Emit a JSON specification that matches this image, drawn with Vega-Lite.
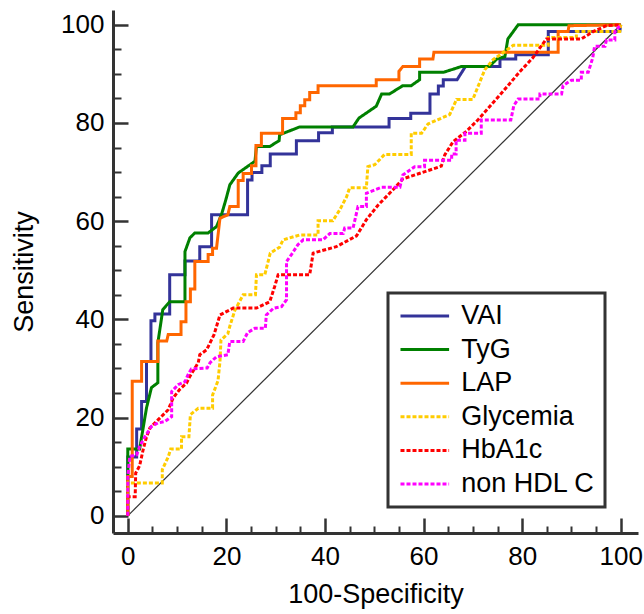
{
"$schema":"https://vega.github.io/schema/vega-lite/v6.json",
"width":525,"height":523,
"autosize":{"type":"none"},
"padding":{"left":113,"top":10,"right":6,"bottom":81},
"background":"white",
"config":{"font":"Liberation Sans","view":{"stroke":null},"axis":{"grid":false}},
"datasets":{
"roc":[
{"s":"VAI","x":0,"y":0},{"s":"VAI","x":0,"y":12},{"s":"VAI","x":1.8,"y":12},{"s":"VAI","x":1.8,"y":17.7},{"s":"VAI","x":2.8,"y":17.7},{"s":"VAI","x":2.8,"y":23.3},{"s":"VAI","x":3.8,"y":23.3},{"s":"VAI","x":3.8,"y":31.4},{"s":"VAI","x":4.7,"y":31.4},{"s":"VAI","x":4.7,"y":39.7},{"s":"VAI","x":5.5,"y":39.7},{"s":"VAI","x":5.5,"y":41.1},{"s":"VAI","x":8.5,"y":41.1},{"s":"VAI","x":8.5,"y":49.1},{"s":"VAI","x":11.6,"y":49.1},{"s":"VAI","x":11.6,"y":51.9},{"s":"VAI","x":14.6,"y":51.9},{"s":"VAI","x":14.6,"y":54.8},{"s":"VAI","x":17,"y":54.8},{"s":"VAI","x":17,"y":61.3},{"s":"VAI","x":24.3,"y":61.3},{"s":"VAI","x":24.3,"y":68.4},{"s":"VAI","x":25.2,"y":68.4},{"s":"VAI","x":25.2,"y":69.9},{"s":"VAI","x":27.2,"y":69.9},{"s":"VAI","x":27.2,"y":71.3},{"s":"VAI","x":28.9,"y":71.3},{"s":"VAI","x":28.9,"y":73.7},{"s":"VAI","x":34.2,"y":73.7},{"s":"VAI","x":34.2,"y":76.4},{"s":"VAI","x":38.7,"y":76.4},{"s":"VAI","x":38.7,"y":78},{"s":"VAI","x":41.5,"y":78},{"s":"VAI","x":41.5,"y":79.2},{"s":"VAI","x":53,"y":79.2},{"s":"VAI","x":53,"y":80.9},{"s":"VAI","x":57.4,"y":80.9},{"s":"VAI","x":57.4,"y":82},{"s":"VAI","x":61.3,"y":82},{"s":"VAI","x":61.3,"y":85.9},{"s":"VAI","x":63,"y":85.9},{"s":"VAI","x":63,"y":87.5},{"s":"VAI","x":64,"y":87.5},{"s":"VAI","x":64,"y":88.8},{"s":"VAI","x":66.8,"y":88.8},{"s":"VAI","x":68.5,"y":91.5},{"s":"VAI","x":75.5,"y":91.5},{"s":"VAI","x":75.5,"y":93},{"s":"VAI","x":78.7,"y":93},{"s":"VAI","x":78.7,"y":93.9},{"s":"VAI","x":85.3,"y":93.9},{"s":"VAI","x":85.3,"y":98.6},{"s":"VAI","x":99.8,"y":98.6},{"s":"VAI","x":100,"y":100},
{"s":"TyG","x":0,"y":0},{"s":"TyG","x":0,"y":13.6},{"s":"TyG","x":2.4,"y":13.6},{"s":"TyG","x":3.8,"y":22},{"s":"TyG","x":4.8,"y":26.1},{"s":"TyG","x":6.1,"y":27.1},{"s":"TyG","x":6.1,"y":35.2},{"s":"TyG","x":7.1,"y":42},{"s":"TyG","x":8.5,"y":43.6},{"s":"TyG","x":11.6,"y":43.6},{"s":"TyG","x":11.6,"y":53.8},{"s":"TyG","x":12.6,"y":56.6},{"s":"TyG","x":13.6,"y":57.6},{"s":"TyG","x":16.3,"y":57.6},{"s":"TyG","x":18,"y":58.9},{"s":"TyG","x":19,"y":61.3},{"s":"TyG","x":19.9,"y":64.4},{"s":"TyG","x":20.7,"y":67.4},{"s":"TyG","x":22.4,"y":69.8},{"s":"TyG","x":25.8,"y":72.2},{"s":"TyG","x":26.1,"y":75.2},{"s":"TyG","x":28.8,"y":75.2},{"s":"TyG","x":30.7,"y":76.4},{"s":"TyG","x":30.8,"y":77.6},{"s":"TyG","x":34.9,"y":79.2},{"s":"TyG","x":45.7,"y":79.2},{"s":"TyG","x":46.9,"y":81},{"s":"TyG","x":50.4,"y":83.4},{"s":"TyG","x":51.5,"y":85.9},{"s":"TyG","x":53.1,"y":85.9},{"s":"TyG","x":55.8,"y":87.6},{"s":"TyG","x":57.5,"y":87.6},{"s":"TyG","x":59.2,"y":88.8},{"s":"TyG","x":59.2,"y":90.3},{"s":"TyG","x":64,"y":90.3},{"s":"TyG","x":67.7,"y":91.5},{"s":"TyG","x":73.4,"y":91.5},{"s":"TyG","x":74.8,"y":93},{"s":"TyG","x":76.5,"y":93.5},{"s":"TyG","x":77.1,"y":97.1},{"s":"TyG","x":79.2,"y":100},{"s":"TyG","x":100,"y":100},
{"s":"LAP","x":0,"y":0},{"s":"LAP","x":0,"y":8},{"s":"LAP","x":0.9,"y":8},{"s":"LAP","x":0.9,"y":27.4},{"s":"LAP","x":2.8,"y":27.4},{"s":"LAP","x":2.8,"y":31.4},{"s":"LAP","x":6.1,"y":31.4},{"s":"LAP","x":6.1,"y":35.6},{"s":"LAP","x":7.9,"y":35.6},{"s":"LAP","x":8.2,"y":36.9},{"s":"LAP","x":10.8,"y":36.9},{"s":"LAP","x":10.8,"y":39.5},{"s":"LAP","x":11.8,"y":39.5},{"s":"LAP","x":11.8,"y":43.6},{"s":"LAP","x":12.7,"y":43.6},{"s":"LAP","x":12.7,"y":46.2},{"s":"LAP","x":13.6,"y":46.2},{"s":"LAP","x":13.6,"y":51.8},{"s":"LAP","x":16.3,"y":51.8},{"s":"LAP","x":16.3,"y":53.2},{"s":"LAP","x":17.2,"y":53.2},{"s":"LAP","x":17.2,"y":54.5},{"s":"LAP","x":18,"y":54.5},{"s":"LAP","x":18.7,"y":60.6},{"s":"LAP","x":20.3,"y":61.3},{"s":"LAP","x":20.7,"y":63},{"s":"LAP","x":22.4,"y":63},{"s":"LAP","x":22.4,"y":68.3},{"s":"LAP","x":23.4,"y":68.3},{"s":"LAP","x":23.4,"y":69.7},{"s":"LAP","x":25.1,"y":69.7},{"s":"LAP","x":25.1,"y":71.3},{"s":"LAP","x":26,"y":71.3},{"s":"LAP","x":26,"y":75.4},{"s":"LAP","x":27.1,"y":75.4},{"s":"LAP","x":27.1,"y":77.9},{"s":"LAP","x":31.4,"y":77.9},{"s":"LAP","x":31.4,"y":80.9},{"s":"LAP","x":34.1,"y":80.9},{"s":"LAP","x":34.1,"y":82.1},{"s":"LAP","x":35,"y":82.1},{"s":"LAP","x":35,"y":83.5},{"s":"LAP","x":35.9,"y":83.5},{"s":"LAP","x":35.9,"y":84.7},{"s":"LAP","x":36.9,"y":84.7},{"s":"LAP","x":36.9,"y":86.2},{"s":"LAP","x":38.6,"y":86.2},{"s":"LAP","x":38.6,"y":87.6},{"s":"LAP","x":50.4,"y":87.6},{"s":"LAP","x":50.4,"y":88.8},{"s":"LAP","x":55,"y":88.8},{"s":"LAP","x":55,"y":90.5},{"s":"LAP","x":55.8,"y":91.5},{"s":"LAP","x":59.2,"y":91.5},{"s":"LAP","x":59.2,"y":93},{"s":"LAP","x":61.9,"y":93},{"s":"LAP","x":62.1,"y":94.4},{"s":"LAP","x":87.3,"y":94.4},{"s":"LAP","x":87.3,"y":98.6},{"s":"LAP","x":89.3,"y":98.6},{"s":"LAP","x":89.5,"y":99.8},{"s":"LAP","x":100,"y":100},
{"s":"Glycemia","x":0,"y":0},{"s":"Glycemia","x":0,"y":6.7},{"s":"Glycemia","x":7,"y":6.7},{"s":"Glycemia","x":7,"y":9.4},{"s":"Glycemia","x":8.2,"y":12},{"s":"Glycemia","x":8.7,"y":13.6},{"s":"Glycemia","x":10.9,"y":13.6},{"s":"Glycemia","x":10.9,"y":16.1},{"s":"Glycemia","x":12.4,"y":16.1},{"s":"Glycemia","x":12.7,"y":20.6},{"s":"Glycemia","x":14.3,"y":21.9},{"s":"Glycemia","x":17.2,"y":21.9},{"s":"Glycemia","x":17.2,"y":24.6},{"s":"Glycemia","x":18.3,"y":27.5},{"s":"Glycemia","x":18.7,"y":31.4},{"s":"Glycemia","x":18.9,"y":35.8},{"s":"Glycemia","x":20.3,"y":37.1},{"s":"Glycemia","x":20.7,"y":38.6},{"s":"Glycemia","x":21.7,"y":41.8},{"s":"Glycemia","x":23.4,"y":45},{"s":"Glycemia","x":25.9,"y":45},{"s":"Glycemia","x":26.1,"y":49.1},{"s":"Glycemia","x":27.8,"y":49.1},{"s":"Glycemia","x":28.9,"y":53.5},{"s":"Glycemia","x":30.8,"y":54.7},{"s":"Glycemia","x":31.5,"y":56.2},{"s":"Glycemia","x":34.9,"y":57.2},{"s":"Glycemia","x":38.6,"y":57.2},{"s":"Glycemia","x":38.6,"y":60.1},{"s":"Glycemia","x":41.6,"y":60.1},{"s":"Glycemia","x":43,"y":62.3},{"s":"Glycemia","x":44.4,"y":65},{"s":"Glycemia","x":45,"y":66.8},{"s":"Glycemia","x":48.4,"y":66.8},{"s":"Glycemia","x":48.7,"y":71.1},{"s":"Glycemia","x":50.1,"y":71.5},{"s":"Glycemia","x":52.1,"y":73.6},{"s":"Glycemia","x":57.5,"y":73.6},{"s":"Glycemia","x":57.5,"y":77.9},{"s":"Glycemia","x":59.6,"y":77.9},{"s":"Glycemia","x":60.9,"y":79.8},{"s":"Glycemia","x":65.3,"y":81.7},{"s":"Glycemia","x":66.7,"y":84.8},{"s":"Glycemia","x":70,"y":84.8},{"s":"Glycemia","x":72.4,"y":90.8},{"s":"Glycemia","x":74.1,"y":92.9},{"s":"Glycemia","x":76.5,"y":94.6},{"s":"Glycemia","x":78.2,"y":95.8},{"s":"Glycemia","x":85.3,"y":95.8},{"s":"Glycemia","x":85.3,"y":97.4},{"s":"Glycemia","x":91,"y":97.4},{"s":"Glycemia","x":91,"y":98.6},{"s":"Glycemia","x":99.8,"y":98.6},{"s":"Glycemia","x":100,"y":100},
{"s":"HbA1c","x":0,"y":0},{"s":"HbA1c","x":0,"y":3.9},{"s":"HbA1c","x":1.5,"y":3.9},{"s":"HbA1c","x":1.6,"y":8.7},{"s":"HbA1c","x":2.4,"y":10.2},{"s":"HbA1c","x":3.1,"y":13.4},{"s":"HbA1c","x":3.8,"y":16.1},{"s":"HbA1c","x":4.5,"y":17.9},{"s":"HbA1c","x":5.8,"y":19.2},{"s":"HbA1c","x":6.8,"y":20.2},{"s":"HbA1c","x":8.2,"y":21.6},{"s":"HbA1c","x":9.2,"y":24},{"s":"HbA1c","x":10.5,"y":25.7},{"s":"HbA1c","x":11.9,"y":27},{"s":"HbA1c","x":12.6,"y":28.4},{"s":"HbA1c","x":14.3,"y":31.2},{"s":"HbA1c","x":14.6,"y":32.8},{"s":"HbA1c","x":16,"y":33.8},{"s":"HbA1c","x":17.5,"y":36.9},{"s":"HbA1c","x":18.7,"y":40.9},{"s":"HbA1c","x":21.4,"y":42.3},{"s":"HbA1c","x":26.1,"y":42.3},{"s":"HbA1c","x":28.8,"y":43.6},{"s":"HbA1c","x":29.8,"y":46.7},{"s":"HbA1c","x":30.5,"y":49.1},{"s":"HbA1c","x":36.9,"y":49.1},{"s":"HbA1c","x":37.6,"y":53.5},{"s":"HbA1c","x":42.3,"y":54.8},{"s":"HbA1c","x":46.4,"y":57},{"s":"HbA1c","x":48.4,"y":60.3},{"s":"HbA1c","x":50.8,"y":63.3},{"s":"HbA1c","x":53.8,"y":66.4},{"s":"HbA1c","x":55.8,"y":68.6},{"s":"HbA1c","x":63.6,"y":71.2},{"s":"HbA1c","x":64.3,"y":73.5},{"s":"HbA1c","x":66,"y":76.2},{"s":"HbA1c","x":68.7,"y":78.3},{"s":"HbA1c","x":71.1,"y":80.7},{"s":"HbA1c","x":75.5,"y":85.7},{"s":"HbA1c","x":79.5,"y":90.4},{"s":"HbA1c","x":82.2,"y":93.3},{"s":"HbA1c","x":84.9,"y":97.1},{"s":"HbA1c","x":92,"y":97.1},{"s":"HbA1c","x":94.4,"y":98.6},{"s":"HbA1c","x":97.1,"y":99.8},{"s":"HbA1c","x":100,"y":100},
{"s":"non HDL C","x":0,"y":0},{"s":"non HDL C","x":0,"y":8},{"s":"non HDL C","x":0.4,"y":12.1},{"s":"non HDL C","x":1.8,"y":12.4},{"s":"non HDL C","x":2.4,"y":14.1},{"s":"non HDL C","x":3.4,"y":16},{"s":"non HDL C","x":4.8,"y":18.2},{"s":"non HDL C","x":6.1,"y":18.9},{"s":"non HDL C","x":7.5,"y":19.2},{"s":"non HDL C","x":8.9,"y":20.2},{"s":"non HDL C","x":8.9,"y":25.3},{"s":"non HDL C","x":10.2,"y":26.7},{"s":"non HDL C","x":11.6,"y":27.3},{"s":"non HDL C","x":12.2,"y":28.7},{"s":"non HDL C","x":12.9,"y":29.9},{"s":"non HDL C","x":16.1,"y":30.1},{"s":"non HDL C","x":16.7,"y":31.2},{"s":"non HDL C","x":18,"y":32.4},{"s":"non HDL C","x":20.3,"y":32.8},{"s":"non HDL C","x":20.7,"y":35.5},{"s":"non HDL C","x":23.4,"y":35.5},{"s":"non HDL C","x":24.3,"y":37.3},{"s":"non HDL C","x":25.8,"y":38.2},{"s":"non HDL C","x":27.9,"y":38.2},{"s":"non HDL C","x":28.1,"y":40.9},{"s":"non HDL C","x":29.6,"y":42.3},{"s":"non HDL C","x":31.2,"y":42.6},{"s":"non HDL C","x":32.2,"y":44},{"s":"non HDL C","x":32.2,"y":51.8},{"s":"non HDL C","x":33.2,"y":53.2},{"s":"non HDL C","x":34.5,"y":55.2},{"s":"non HDL C","x":35.6,"y":56.2},{"s":"non HDL C","x":39.6,"y":56.2},{"s":"non HDL C","x":41,"y":57.5},{"s":"non HDL C","x":43.7,"y":57.5},{"s":"non HDL C","x":44,"y":58.6},{"s":"non HDL C","x":45.7,"y":58.6},{"s":"non HDL C","x":46.7,"y":63},{"s":"non HDL C","x":48.4,"y":63},{"s":"non HDL C","x":48.4,"y":65.7},{"s":"non HDL C","x":51.5,"y":66.9},{"s":"non HDL C","x":55.2,"y":66.9},{"s":"non HDL C","x":55.8,"y":69.4},{"s":"non HDL C","x":58.2,"y":71.1},{"s":"non HDL C","x":60.2,"y":71.1},{"s":"non HDL C","x":60.2,"y":72.4},{"s":"non HDL C","x":65.7,"y":72.4},{"s":"non HDL C","x":65.7,"y":73.7},{"s":"non HDL C","x":66.6,"y":73.7},{"s":"non HDL C","x":66.6,"y":76.5},{"s":"non HDL C","x":68.4,"y":76.5},{"s":"non HDL C","x":68.4,"y":77.9},{"s":"non HDL C","x":71.7,"y":77.9},{"s":"non HDL C","x":71.7,"y":80.6},{"s":"non HDL C","x":77.7,"y":80.6},{"s":"non HDL C","x":78.3,"y":83.5},{"s":"non HDL C","x":79.2,"y":84.9},{"s":"non HDL C","x":83.6,"y":84.9},{"s":"non HDL C","x":83.6,"y":85.9},{"s":"non HDL C","x":88,"y":85.9},{"s":"non HDL C","x":88.3,"y":87.6},{"s":"non HDL C","x":90,"y":88.7},{"s":"non HDL C","x":92,"y":88.7},{"s":"non HDL C","x":92,"y":90.3},{"s":"non HDL C","x":93.4,"y":90.3},{"s":"non HDL C","x":94.3,"y":93.2},{"s":"non HDL C","x":94.7,"y":95.6},{"s":"non HDL C","x":96.8,"y":95.6},{"s":"non HDL C","x":97.1,"y":96.9},{"s":"non HDL C","x":98.8,"y":96.9},{"s":"non HDL C","x":98.8,"y":98.6},{"s":"non HDL C","x":100,"y":100}
],
"diag":[{"x":0,"y":0},{"x":100,"y":100}]
},
"resolve":{"axis":{"x":"independent","y":"independent"}},
"layer":[
{
"data":{"name":"diag"},
"mark":{"type":"line","color":"#333333","strokeWidth":1.2},
"encoding":{
"x":{"field":"x","type":"quantitative","scale":{"domain":[-3,103.5],"nice":false,"zero":false},
 "axis":{"orient":"bottom","values":[0,20,40,60,80,100],"tickSize":-15,"tickWidth":2.5,"tickColor":"#333333","domainColor":"#333333","domainWidth":3,"labelFontSize":26,"labelColor":"black","labelPadding":25,"labelFlush":false,"title":"100-Specificity","titleFontSize":27,"titleFontWeight":"normal","titleColor":"black","titlePadding":12}},
"y":{"field":"y","type":"quantitative","scale":{"domain":[-3.5,103],"nice":false,"zero":false},
 "axis":{"orient":"left","values":[0,20,40,60,80,100],"tickSize":-15,"tickWidth":2.5,"tickColor":"#333333","domainColor":"#333333","domainWidth":3,"labelFontSize":26,"labelColor":"black","labelPadding":24,"labelFlush":false,"title":"Sensitivity","titleFontSize":27,"titleFontWeight":"normal","titleColor":"black","titlePadding":22}}
}
},
{
"data":{"name":"roc"},
"mark":{"type":"line"},
"encoding":{
"x":{"field":"x","type":"quantitative","axis":{"orient":"bottom","values":[5,10,15,25,30,35,45,50,55,65,70,75,85,90,95],"tickSize":-7,"tickWidth":2,"tickColor":"#333333","domain":false,"labels":false,"title":null}},
"y":{"field":"y","type":"quantitative","axis":{"orient":"left","values":[5,10,15,25,30,35,45,50,55,65,70,75,85,90,95],"tickSize":-8,"tickWidth":2,"tickColor":"#333333","domain":false,"labels":false,"title":null}},
"order":{"value":null},
"color":{"field":"s","type":"nominal","title":null,
 "scale":{"domain":["VAI","TyG","LAP","Glycemia","HbA1c","non HDL C"],"range":["#333399","#008000","#ff6600","#ffcc00","#ff0000","#ff00ff"]},
 "legend":{"orient":"none","legendX":275,"legendY":283,"symbolType":"M-2.43,0H2.43","symbolSize":400,"symbolOffset":13.8,"labelFontSize":27,"labelColor":"black","labelOffset":23,"labelExpr":"datum.label + '\u00a0\u00a0'","padding":9.5,"rowPadding":5.6,"strokeColor":"#333333","fillColor":"white","labelLimit":400,
  "encode":{"legend":{"update":{"strokeWidth":{"value":3}}}}}},
"strokeDash":{"field":"s","type":"nominal","title":null,
 "scale":{"domain":["VAI","TyG","LAP","Glycemia","HbA1c","non HDL C"],"range":[[1,0],[1,0],[1,0],[4,2],[4,2],[4,2]]}},
"strokeWidth":{"field":"s","type":"nominal","title":null,
 "scale":{"domain":["VAI","TyG","LAP","Glycemia","HbA1c","non HDL C"],"range":[3,3,3,1.2,1.2,1.2]}}
}
}
]
}
